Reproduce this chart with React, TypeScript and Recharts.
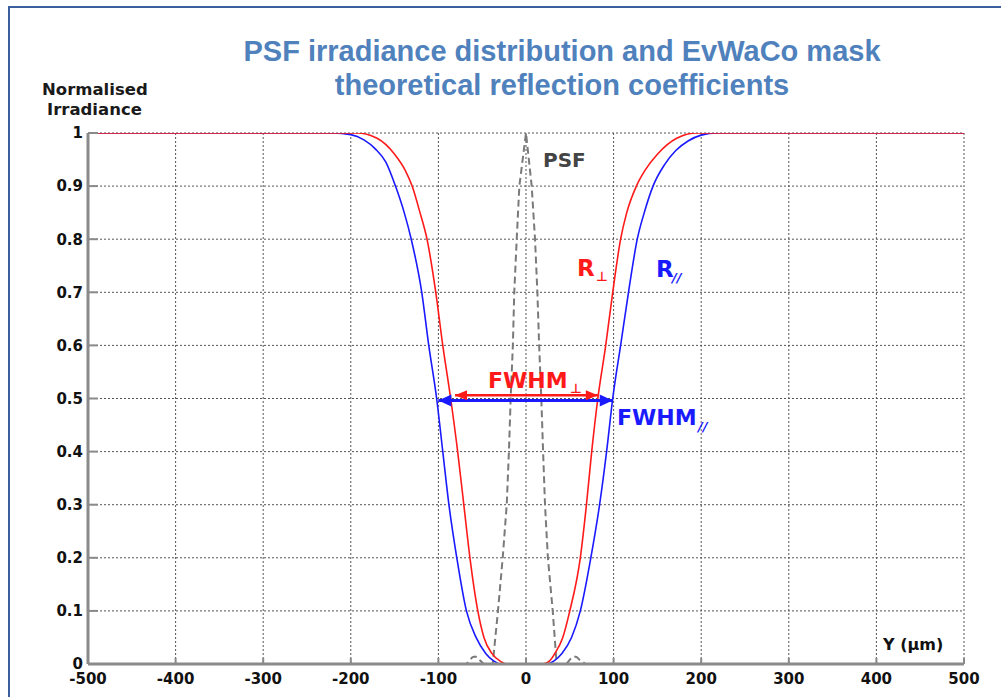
import React from "react";
import { LineChart, Line, XAxis, YAxis, CartesianGrid } from "recharts";

// R perpendicular (red)
const perpX = [-500, -193, -170, -150, -138, -130, -121, -113, -103, -95, -86, -78, -71, -64, -55, -48, -39, -30, -22, 0, 19, 27, 33, 42, 50, 62, 69, 75, 82, 91, 99, 108, 115, 126, 136, 150, 172, 195, 500];
const perpY = [1, 1, 0.99, 0.96, 0.93, 0.9, 0.85, 0.8, 0.7, 0.6, 0.5, 0.4, 0.3, 0.2, 0.1, 0.05, 0.02, 0.006, 0, 0, 0, 0.006, 0.02, 0.05, 0.1, 0.2, 0.3, 0.4, 0.5, 0.6, 0.7, 0.8, 0.85, 0.9, 0.93, 0.96, 0.99, 1, 1];

// R parallel (blue)
const parX = [-500, -220, -200, -185, -172, -160, -149, -139, -131, -119, -111, -102, -95, -88, -79, -68, -57, -46, -37, -30, 0, 24, 32, 41, 52, 62, 74, 84, 92, 99, 108, 117, 127, 135, 145, 158, 171, 185, 200, 218, 500];
const parY = [1, 1, 0.997, 0.987, 0.97, 0.945, 0.9, 0.85, 0.8, 0.7, 0.6, 0.5, 0.4, 0.3, 0.2, 0.1, 0.05, 0.02, 0.006, 0, 0, 0, 0.006, 0.02, 0.05, 0.1, 0.2, 0.3, 0.4, 0.5, 0.6, 0.7, 0.8, 0.85, 0.9, 0.94, 0.967, 0.985, 0.996, 1, 1];

// PSF (grey dashed)
const psfX = [-500, -100, -68, -64, -61, -58, -55, -52, -48, -38, -32, -26.6, -22, -19.5, -17.5, -15, -13.4, -10.6, -7.6, 0, 6.5, 10.3, 13, 15, 17.5, 19.5, 21.7, 25, 30.5, 35, 46, 49, 52, 55, 58, 61, 68, 100, 500];
const psfY = [0, 0, 0, 0.008, 0.013, 0.014, 0.012, 0.006, 0, 0, 0.1, 0.2, 0.3, 0.4, 0.5, 0.6, 0.7, 0.8, 0.9, 1, 0.9, 0.8, 0.7, 0.6, 0.5, 0.4, 0.3, 0.2, 0.1, 0, 0, 0.006, 0.012, 0.014, 0.013, 0.008, 0, 0, 0];

// FWHM arrows
const fwhmPerpX = [-81, 82];
const fwhmPerpY = [0.506, 0.506];
const fwhmParX = [-100, 99];
const fwhmParY = [0.496, 0.496];

const xTicks = [-500, -400, -300, -200, -100, 0, 100, 200, 300, 400, 500];
const yTicks = [0, 0.1, 0.2, 0.3, 0.4, 0.5, 0.6, 0.7, 0.8, 0.9, 1];

const pts = (xs: number[], ys: number[]) => xs.map((x, i) => ({ x, y: ys[i] }));

const perp = pts(perpX, perpY);
const par = pts(parX, parY);
const psf = pts(psfX, psfY);
const fwhmPerp = pts(fwhmPerpX, fwhmPerpY);
const fwhmPar = pts(fwhmParX, fwhmParY);

const RED = "#ff1a1a";
const BLUE = "#1a1aff";
const TICK_FONT = "'DejaVu Sans', Verdana, sans-serif";

// arrowhead at each end of a FWHM segment
const arrowDot = (color: string, len: number, half: number) => (props: any) => {
  const { cx, cy, index } = props;
  const dir = index === 0 ? -1 : 1;
  const d = `M${cx},${cy} L${cx - dir * len},${cy - half} L${cx - dir * len},${cy + half} Z`;
  return <path key={`a${index}`} d={d} fill={color} stroke="none" />;
};

export default function App() {
  return (
    <div style={{ position: "absolute", left: 0, top: 0, width: 1001, height: 697, background: "#fff", overflow: "hidden" }}>
      <div
        style={{
          position: "absolute",
          left: 8,
          top: 6,
          width: 1100,
          height: 800,
          border: "2px solid #3b5f9c",
        }}
      />
      <div style={{ position: "absolute", left: 0, top: 0 }}>
        <LineChart width={1001} height={697} margin={{ top: 133, right: 37, bottom: 3, left: 8 }}>
          <CartesianGrid stroke="#555" strokeDasharray="2 2" strokeWidth={1} />
          <XAxis
            type="number"
            dataKey="x"
            domain={[-500, 500]}
            ticks={xTicks}
            height={30}
            axisLine={{ stroke: "#8a8a8a", strokeWidth: 3 }}
            tickLine={{ stroke: "#8a8a8a", strokeWidth: 2 }}
            tickSize={-6}
            tickMargin={15}
            tick={{ fill: "#111", fontSize: 15, fontWeight: "bold", fontFamily: TICK_FONT }}
            allowDataOverflow
          />
          <YAxis
            type="number"
            domain={[0, 1]}
            ticks={yTicks}
            width={80}
            axisLine={{ stroke: "#8a8a8a", strokeWidth: 3 }}
            tickLine={{ stroke: "#8a8a8a", strokeWidth: 2 }}
            tickSize={-10}
            tickMargin={15}
            tick={{ fill: "#111", fontSize: 15, fontWeight: "bold", fontFamily: TICK_FONT }}
            allowDataOverflow
          />
          <Line data={psf} dataKey="y" type="linear" stroke="#7a7a7a" strokeWidth={2} strokeDasharray="7 4" dot={false} isAnimationActive={false} />
          <Line data={par} dataKey="y" type="monotone" stroke={BLUE} strokeWidth={1.6} dot={false} isAnimationActive={false} />
          <Line data={perp} dataKey="y" type="monotone" stroke={RED} strokeWidth={1.6} dot={false} isAnimationActive={false} />
          <Line data={fwhmPar} dataKey="y" type="linear" stroke={BLUE} strokeWidth={3} dot={arrowDot(BLUE, 13, 6)} isAnimationActive={false} />
          <Line data={fwhmPerp} dataKey="y" type="linear" stroke={RED} strokeWidth={2.5} dot={arrowDot(RED, 12, 5)} isAnimationActive={false} />
        </LineChart>
      </div>
      <svg width={1001} height={697} style={{ position: "absolute", left: 0, top: 0, pointerEvents: "none" }}>
        <g fontFamily="'Liberation Sans', Arial, sans-serif" fontWeight="bold" fill="#4f81bd" fontSize={29} textAnchor="middle">
          <text x={562} y={61}>PSF irradiance distribution and EvWaCo mask</text>
          <text x={562} y={95}>theoretical reflection coefficients</text>
        </g>
        <g fontFamily={TICK_FONT} fontWeight="bold">
          <text x={42} y={95} fontSize={16.5} fill="#1a1a1a">Normalised</text>
          <text x={47} y={115} fontSize={16.5} fill="#1a1a1a">Irradiance</text>
          <text x={543} y={167} fontSize={20} fill="#444">PSF</text>
          <text x={577} y={276} fontSize={23} fill={RED}>R</text>
          <text x={596} y={281} fontSize={13} fill={RED}>⊥</text>
          <text x={656} y={277} fontSize={23} fill={BLUE}>R</text>
          <text x={672} y={282} fontSize={13} fill={BLUE} fontStyle="italic">//</text>
          <text x={488} y={388} fontSize={22} fill={RED}>FWHM</text>
          <text x={570} y={393} fontSize={13} fill={RED}>⊥</text>
          <text x={617} y={425} fontSize={22} fill={BLUE}>FWHM</text>
          <text x={698} y={431} fontSize={13} fill={BLUE} fontStyle="italic">//</text>
          <text x={883} y={650} fontSize={16} fill="#111">Y (µm)</text>
        </g>
      </svg>
    </div>
  );
}
